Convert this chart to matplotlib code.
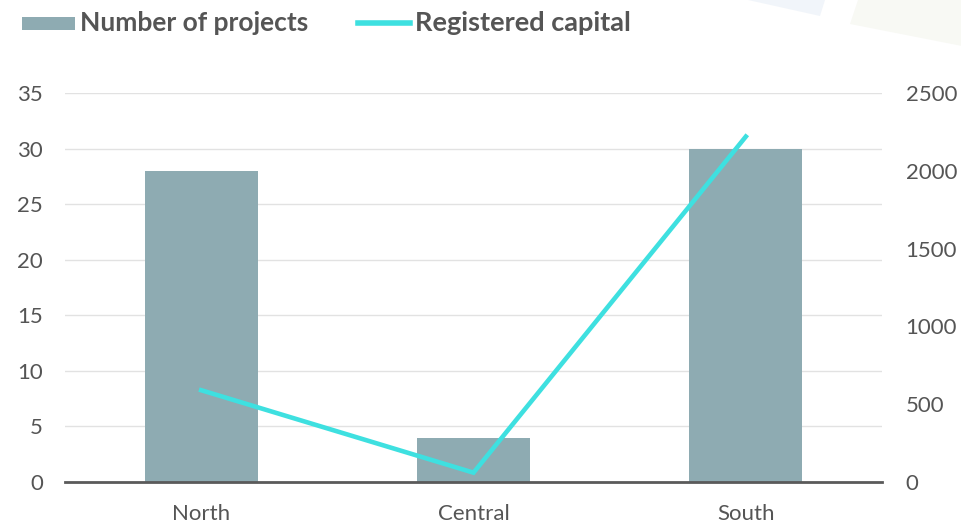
import matplotlib
matplotlib.use("Agg")
import matplotlib.pyplot as plt
from matplotlib.patches import Polygon, Rectangle
from matplotlib.lines import Line2D

regions = ["North", "Central", "South"]
projects = [28, 4, 30]
capital = [590, 60, 2220]
left_ticks = [0, 5, 10, 15, 20, 25, 30, 35]
right_ticks = [0, 500, 1000, 1500, 2000, 2500]

BAR_COLOR = "#8eabb2"
LINE_COLOR = "#3ee0e0"
TEXT_COLOR = "#555555"
GRID_COLOR = "#e2e2e2"

plt.rcParams["font.family"] = ["Lato", "DejaVu Sans"]

W, H = 962, 528
fig = plt.figure(figsize=(W / 100, H / 100), dpi=100)

# faint decorative shapes in the top-right corner
fig.patches.append(Polygon([(748 / W, 1), (825 / W, 1), (820 / W, 1 - 16 / H)],
                           closed=True, transform=fig.transFigure,
                           facecolor="#f1f5fa", edgecolor="none", zorder=0))
fig.patches.append(Polygon([(858 / W, 1), (962 / W, 1), (962 / W, 1 - 46 / H), (850 / W, 1 - 24 / H)],
                           closed=True, transform=fig.transFigure,
                           facecolor="#f8f9f4", edgecolor="none", zorder=0))

ax = fig.add_axes([65 / W, (H - 482) / H, (882 - 65) / W, (482 - 93) / H])
ax2 = ax.twinx()

x = list(range(len(regions)))
ax.bar(x, projects, width=0.415, color=BAR_COLOR, zorder=2)
ax2.plot(x, capital, color=LINE_COLOR, lw=3.3, solid_joinstyle="miter", zorder=3)

ax.set_xlim(-0.5, 2.5)
ax.set_ylim(0, 35)
ax2.set_ylim(0, 2500)
ax.set_yticks(left_ticks)
ax2.set_yticks(right_ticks)
ax.set_xticks(x)
ax.set_xticklabels(regions)

ax.yaxis.grid(True, color=GRID_COLOR, lw=1)
ax.set_axisbelow(True)
for a in (ax, ax2):
    for s in a.spines.values():
        s.set_visible(False)
    a.tick_params(length=0, labelsize=16, colors=TEXT_COLOR)
ax.spines["bottom"].set_visible(True)
ax.spines["bottom"].set_color("#5a5a5a")
ax.spines["bottom"].set_linewidth(2)
ax.spines["bottom"].set_zorder(4)
ax.tick_params(axis="y", pad=16)
ax2.tick_params(axis="y", pad=17)
ax.tick_params(axis="x", pad=16)

# legend drawn across the top
fig.patches.append(Rectangle((22 / W, 1 - 30 / H), 53 / W, 13 / H, transform=fig.transFigure,
                             facecolor=BAR_COLOR, edgecolor="none"))
fig.text(80 / W, 1 - 23 / H, "Number of projects", fontsize=19, fontweight="bold",
         color=TEXT_COLOR, va="center", ha="left")
fig.lines.append(Line2D([358 / W, 410 / W], [1 - 23 / H, 1 - 23 / H], transform=fig.transFigure,
                        color=LINE_COLOR, lw=4))
fig.text(415 / W, 1 - 23 / H, "Registered capital", fontsize=19.5, fontweight="bold",
         color=TEXT_COLOR, va="center", ha="left")

fig.savefig("out.png", dpi=100, facecolor="white")
